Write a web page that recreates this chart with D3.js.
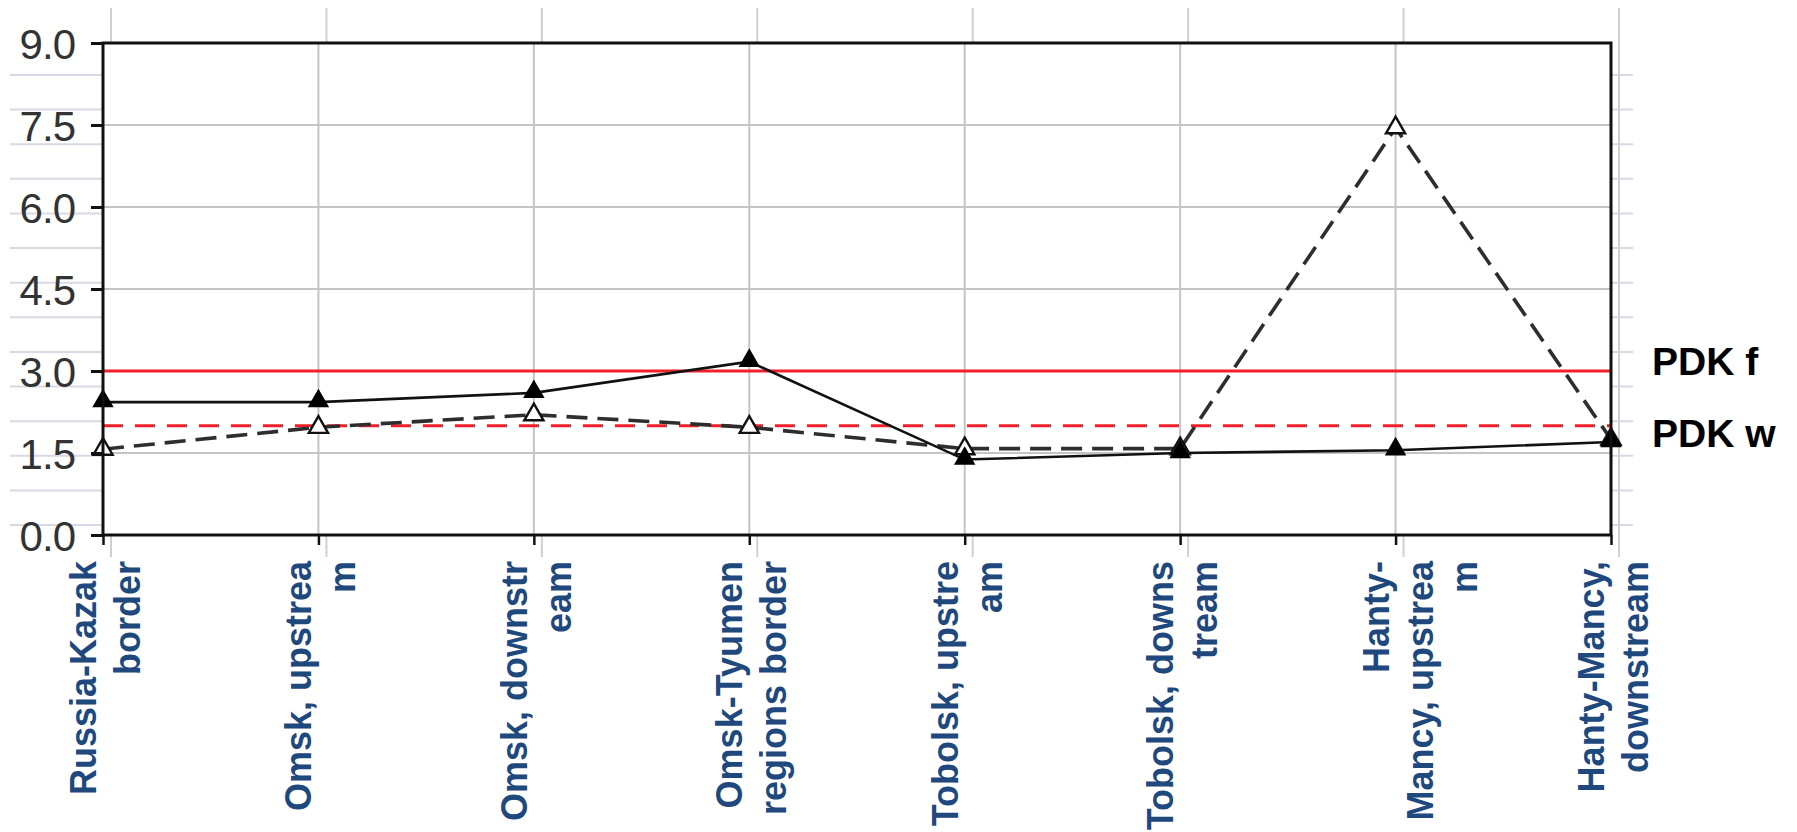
<!DOCTYPE html>
<html>
<head>
<meta charset="utf-8">
<script src="https://cdn.jsdelivr.net/npm/d3@7"></script>
<style>
  html, body { margin: 0; padding: 0; background: #fff; }
  svg { display: block; }
</style>
</head>
<body>
<svg id="chart" width="1797" height="832"></svg>
<script>
// ---- data ----
const categories = [
  "Russia-Kazak border",
  "Omsk, upstream",
  "Omsk, downstream",
  "Omsk-Tyumen regions border",
  "Tobolsk, upstream",
  "Tobolsk, downstream",
  "Hanty-Mancy, upstream",
  "Hanty-Mancy, downstream"
];
const categoryLabelLines = [
  ["Russia-Kazak", "border"],
  ["Omsk, upstrea", "m"],
  ["Omsk, downstr", "eam"],
  ["Omsk-Tyumen", "regions border"],
  ["Tobolsk, upstre", "am"],
  ["Tobolsk, downs", "tream"],
  ["Hanty-", "Mancy, upstrea", "m"],
  ["Hanty-Mancy,", "downstream"]
];
const solidSeries  = [2.43, 2.43, 2.6, 3.17, 1.38, 1.5, 1.55, 1.7];
const dashedSeries = [1.57, 1.97, 2.2, 1.97, 1.58, 1.58, 7.45, 1.75];
const limitNames  = ["PDK f", "PDK w"];
const limitValues = [3.0, 2.0];
const yTickValues = [0, 1.5, 3, 4.5, 6, 7.5, 9];
const yTickLabels = ["0.0", "1.5", "3.0", "4.5", "6.0", "7.5", "9.0"];

(function () {
// ---- layout ----
const svg = d3.select("#chart");
const pLeft = 103, pRight = 1611, pTop = 43, pBottom = 535;

const x = d3.scalePoint().domain(categories).range([pLeft, pRight]);
const y = d3.scaleLinear().domain([0, 9]).range([pBottom, pTop]);

// faint background grid (ghost layer visible around the plot)
const ghostY = d3.scaleLinear().domain([0, 13]).range([525, 75]);
const ghost = svg.append("g").attr("stroke", "#d9d9e6").attr("stroke-width", 2);
ghost.selectAll("line.gh").data(d3.range(0, 14)).join("line")
  .attr("x1", 10).attr("x2", pRight + 22)
  .attr("y1", d => ghostY(d)).attr("y2", d => ghostY(d));
ghost.selectAll("line.gv").data(categories).join("line")
  .attr("stroke", "#d0d0d0")
  .attr("x1", d => x(d) + 8).attr("x2", d => x(d) + 8)
  .attr("y1", 8).attr("y2", pBottom + 22);

// plot background
svg.append("rect").attr("x", pLeft).attr("y", pTop)
  .attr("width", pRight - pLeft).attr("height", pBottom - pTop)
  .attr("fill", "#fff");

// gridlines
const grid = svg.append("g").attr("stroke", "#c4c4c4").attr("stroke-width", 2);
grid.selectAll("line.h").data(yTickValues).join("line")
  .attr("x1", pLeft).attr("x2", pRight)
  .attr("y1", d => y(d)).attr("y2", d => y(d));
grid.selectAll("line.v").data(categories).join("line")
  .attr("x1", d => x(d)).attr("x2", d => x(d))
  .attr("y1", pTop).attr("y2", pBottom);

// limit lines
svg.append("g").selectAll("line").data(limitValues).join("line")
  .attr("x1", pLeft).attr("x2", pRight)
  .attr("y1", d => y(d)).attr("y2", d => y(d))
  .attr("stroke", "#f0202a").attr("stroke-width", 3)
  .attr("stroke-dasharray", (d, i) => i === 1 ? "20,12" : null);

// series lines
const line = d3.line().x((d, i) => x(categories[i])).y(d => y(d));
svg.append("path").datum(dashedSeries)
  .attr("d", line).attr("fill", "none")
  .attr("stroke", "#2e2e2e").attr("stroke-width", 3.6)
  .attr("stroke-dasharray", "21,10");
svg.append("path").datum(solidSeries)
  .attr("d", line).attr("fill", "none")
  .attr("stroke", "#111").attr("stroke-width", 2.6);

// markers
svg.append("g").selectAll("path").data(dashedSeries).join("path")
  .attr("d", d3.symbol().type(d3.symbolTriangle).size(160)())
  .attr("transform", (d, i) => `translate(${x(categories[i])},${y(d)})`)
  .attr("fill", "#fff").attr("stroke", "#111").attr("stroke-width", 2.4);
svg.append("g").selectAll("path").data(solidSeries).join("path")
  .attr("d", d3.symbol().type(d3.symbolTriangle).size(200)())
  .attr("transform", (d, i) => `translate(${x(categories[i])},${y(d) - 1})`)
  .attr("fill", "#000");

// frame
svg.append("rect").attr("x", pLeft).attr("y", pTop)
  .attr("width", pRight - pLeft).attr("height", pBottom - pTop)
  .attr("fill", "none").attr("stroke", "#111").attr("stroke-width", 3);

// y axis
const yAxis = d3.axisLeft(y).tickValues(yTickValues)
  .tickFormat((d, i) => yTickLabels[i]).tickSize(12).tickPadding(16);
const gy = svg.append("g").attr("transform", `translate(${pLeft},0)`).call(yAxis);
gy.select(".domain").remove();
gy.selectAll(".tick line").attr("stroke", "#111").attr("stroke-width", 3);
gy.selectAll(".tick text")
  .attr("font-family", "'Liberation Sans', Arial, sans-serif")
  .attr("font-size", 42).attr("letter-spacing", -1)
  .attr("fill", "#333").attr("dy", "0.36em");

// x axis
const xAxis = d3.axisBottom(x).tickSize(10).tickFormat("");
const gx = svg.append("g").attr("transform", `translate(0,${pBottom})`).call(xAxis);
gx.select(".domain").remove();
gx.selectAll(".tick line").attr("stroke", "#111").attr("stroke-width", 2.5);

// x category labels (rotated, wrapped)
const lab = svg.append("g")
  .attr("font-family", "'Liberation Sans', Arial, sans-serif")
  .attr("font-weight", "bold").attr("font-size", 36).attr("fill", "#1f497d");
categories.forEach((c, i) => {
  const g = lab.append("g").attr("transform", `translate(${x(c)},561) rotate(-90)`);
  categoryLabelLines[i].forEach((t, j) => {
    g.append("text").attr("x", 0).attr("y", -7 + 44 * j)
      .attr("text-anchor", "end").text(t);
  });
});

// limit labels
svg.append("g").selectAll("text").data(limitNames).join("text")
  .attr("x", pRight + 41)
  .attr("y", (d, i) => y(limitValues[i]) + (i === 0 ? 4 : 21))
  .attr("font-family", "'Liberation Sans', Arial, sans-serif")
  .attr("font-weight", "bold").attr("font-size", 39).attr("fill", "#000")
  .text(d => d);
})();
</script>
</body>
</html>
